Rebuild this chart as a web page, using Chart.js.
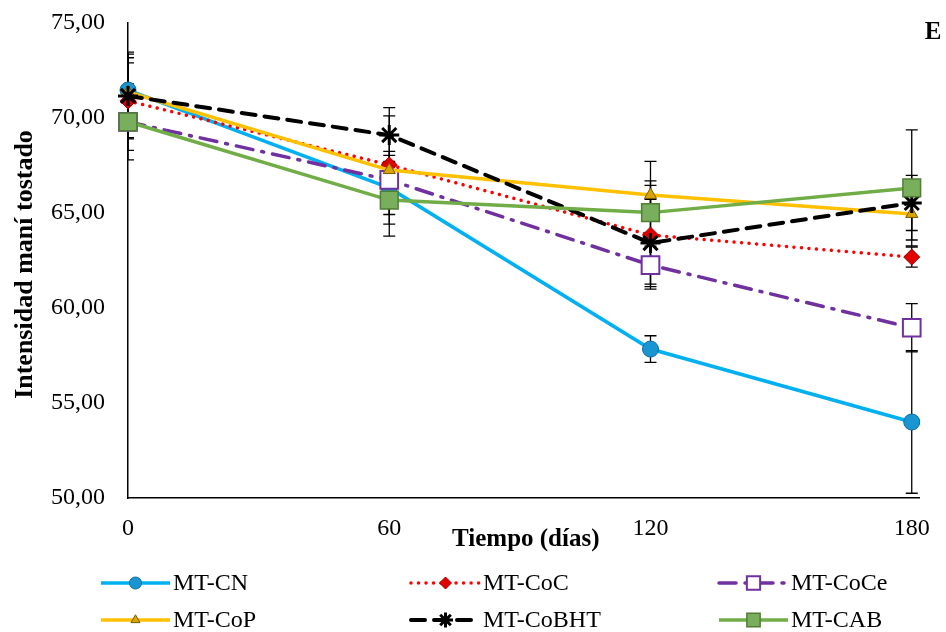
<!DOCTYPE html>
<html><head><meta charset="utf-8">
<script src="https://cdn.jsdelivr.net/npm/chart.js@4.4.1/dist/chart.umd.min.js"></script>
<style>html,body{margin:0;padding:0;background:#fff}#wrap{width:946px;height:632px;position:relative}</style>
</head><body><div id="wrap"><canvas id="c" width="946" height="632"></canvas></div>
<script>
// ---- data ----
const days = [0, 60, 120, 180];
const xTickValues = [0, 60, 120, 180];
const yTickValues = [50, 55, 60, 65, 70, 75];
const seriesNames = ['MT-CN', 'MT-CoC', 'MT-CoCe', 'MT-CoP', 'MT-CoBHT', 'MT-CAB'];
const mtCN    = [71.47, 66.32, 57.84, 54.00];
const mtCoC   = [70.90, 67.53, 63.84, 62.68];
const mtCoCe  = [69.80, 66.74, 62.26, 58.96];
const mtCoP   = [71.37, 67.26, 65.95, 64.95];
const mtCoBHT = [71.16, 69.10, 63.42, 65.53];
const mtCAB   = [69.80, 65.68, 65.02, 66.32];
const errCN    = [2.00, 1.40, 0.70, 3.75];
const errCoC   = [2.00, 0.50, 2.85, 0.53];
const errCoCe  = [1.50, 1.50, 1.00, 1.27];
const errCoP   = [1.80, 2.85, 0.50, 1.37];
const errCoBHT = [2.20, 1.45, 2.30, 1.45];
const errCAB   = [2.00, 1.90, 2.70, 3.05];
const xTitle = 'Tiempo (días)';
const yTitle = 'Intensidad maní tostado';
const panelLetter = 'E';

const FONT = "'Liberation Serif','Times New Roman',serif";
const values = [mtCN, mtCoC, mtCoCe, mtCoP, mtCoBHT, mtCAB];
const errors = [errCN, errCoC, errCoCe, errCoP, errCoBHT, errCAB];

const styles = [
  {borderColor:'#00B0F0', borderWidth:3.5, borderDash:[], cap:'butt', pointStyle:'circle', radius:8, bg:'#1996D2', pb:'#0B6C9C', pbw:1},
  {borderColor:'#FF0000', borderWidth:3.5, borderDash:[0.01,7.5], cap:'round', pointStyle:'rectRot', radius:8, bg:'#E00000', pb:'#A00000', pbw:1},
  {borderColor:'#7030A0', borderWidth:3.5, borderDash:[17,9,2,9], cap:'round', pointStyle:'rect', radius:12.5, bg:'#FFFFFF', pb:'#7030A0', pbw:2},
  {borderColor:'#FFC000', borderWidth:3.5, borderDash:[], cap:'butt', pointStyle:'triangle', radius:7, bg:'#D9A400', pb:'#7A5A00', pbw:1},
  {borderColor:'#000000', borderWidth:4, borderDash:[14,9], cap:'round', pointStyle:'star', radius:10, bg:'#000000', pb:'#000000', pbw:3},
  {borderColor:'#70AD47', borderWidth:3.5, borderDash:[], cap:'butt', pointStyle:'rect', radius:12.5, bg:'#79AE5C', pb:'#4E7F32', pbw:1.5}
];

const datasets = seriesNames.map((name, i) => ({
  label: name,
  data: days.map((d, j) => ({x: d, y: values[i][j]})),
  borderColor: styles[i].borderColor,
  borderWidth: styles[i].borderWidth,
  borderDash: styles[i].borderDash,
  borderCapStyle: styles[i].cap,
  backgroundColor: styles[i].bg,
  pointStyle: styles[i].pointStyle,
  pointRadius: styles[i].radius,
  pointHoverRadius: styles[i].radius,
  pointBackgroundColor: styles[i].bg,
  pointBorderColor: styles[i].pb,
  pointBorderWidth: styles[i].pbw,
  tension: 0,
  fill: false,
  clip: false,
  order: seriesNames.length - i
}));

const errorBars = {
  id: 'errorBars',
  beforeDatasetsDraw(chart) {
    const ctx = chart.ctx, xs = chart.scales.x, ys = chart.scales.y, a = chart.chartArea;
    ctx.save();
    ctx.beginPath();
    ctx.rect(a.left, a.top - 2, a.right - a.left + 10, a.bottom - a.top + 4);
    ctx.clip();
    ctx.strokeStyle = '#000';
    ctx.lineWidth = 1.3;
    values.forEach((vals, i) => {
      vals.forEach((v, j) => {
        const e = errors[i][j];
        const x = xs.getPixelForValue(days[j]);
        const y1 = ys.getPixelForValue(v + e), y2 = ys.getPixelForValue(v - e);
        ctx.beginPath();
        ctx.moveTo(x, y1); ctx.lineTo(x, y2);
        ctx.moveTo(x - 6, y1); ctx.lineTo(x + 6, y1);
        ctx.moveTo(x - 6, y2); ctx.lineTo(x + 6, y2);
        ctx.stroke();
      });
    });
    ctx.restore();
  }
};

function drawMarker(ctx, i, x, y) {
  const s = styles[i];
  ctx.save();
  ctx.fillStyle = s.bg; ctx.strokeStyle = s.pb; ctx.lineWidth = s.pbw; ctx.setLineDash([]);
  if (Chart.helpers && Chart.helpers.drawPoint) {
    Chart.helpers.drawPoint(ctx, {pointStyle: s.pointStyle, radius: s.radius * 0.75, rotation: 0, borderWidth: s.pbw}, x, y);
  } else {
    ctx.beginPath(); ctx.arc(x, y, 6, 0, Math.PI*2); ctx.fill(); ctx.stroke();
  }
  ctx.restore();
}

const decorations = {
  id: 'decorations',
  afterDraw(chart) {
    const ctx = chart.ctx, a = chart.chartArea;
    ctx.save();
    ctx.fillStyle = '#000';
    // x title
    ctx.font = 'bold 25px ' + FONT;
    ctx.textAlign = 'center'; ctx.textBaseline = 'middle';
    ctx.fillText(xTitle, (a.left + a.right) / 2 + 2, 540);
    // y title
    ctx.save();
    ctx.translate(25, (a.top + a.bottom) / 2 + 4);
    ctx.rotate(-Math.PI / 2);
    ctx.font = 'bold 26px ' + FONT;
    ctx.fillText(yTitle, 0, 0);
    ctx.restore();
    // panel letter
    ctx.font = 'bold 25px ' + FONT;
    ctx.fillText(panelLetter, 933, 33);
    // legend
    const colX = [101, 411, 719];
    const rowY = [583, 620];
    const lineW = 69;
    ctx.font = '24px ' + FONT;
    ctx.textAlign = 'left'; ctx.textBaseline = 'middle';
    seriesNames.forEach((name, i) => {
      const col = i % 3, row = Math.floor(i / 3);
      const x0 = colX[col], y0 = rowY[row];
      const s = styles[i];
      ctx.save();
      ctx.strokeStyle = s.borderColor; ctx.lineWidth = s.borderWidth;
      ctx.lineCap = s.cap;
      ctx.setLineDash(s.borderDash);
      ctx.beginPath(); ctx.moveTo(x0, y0); ctx.lineTo(x0 + lineW, y0); ctx.stroke();
      ctx.restore();
      drawMarker(ctx, i, x0 + lineW / 2, y0);
      ctx.fillStyle = '#000';
      ctx.fillText(name, x0 + lineW + 3, y0 + 1);
    });
    ctx.restore();
  }
};

new Chart(document.getElementById('c'), {
  type: 'line',
  data: { datasets },
  options: {
    responsive: false,
    animation: false,
    devicePixelRatio: 1,
    layout: { padding: { left: 0, top: 23, right: 26, bottom: 0 } },
    plugins: { legend: { display: false }, tooltip: { enabled: false } },
    scales: {
      x: {
        type: 'linear', min: 0, max: 181.8,
        afterBuildTicks: ax => { ax.ticks = xTickValues.map(v => ({value: v})); },
        afterFit: ax => { ax.height = 134; },
        grid: { display: false, drawTicks: false },
        border: { display: true, color: '#000', width: 1.5 },
        ticks: { color: '#000', padding: 16, maxRotation: 0, font: { family: FONT, size: 24 }, callback: v => String(v) }
      },
      y: {
        type: 'linear', min: 50, max: 75,
        afterBuildTicks: ax => { ax.ticks = yTickValues.map(v => ({value: v})); },
        afterFit: ax => { ax.width = 128; ax.paddingTop = 0; ax.paddingBottom = 0; },
        grid: { display: false, drawTicks: false },
        border: { display: true, color: '#000', width: 1.5 },
        ticks: { color: '#000', padding: 23, font: { family: FONT, size: 24 }, callback: v => v.toFixed(2).replace('.', ',') }
      }
    }
  },
  plugins: [errorBars, decorations]
});
</script></body></html>
